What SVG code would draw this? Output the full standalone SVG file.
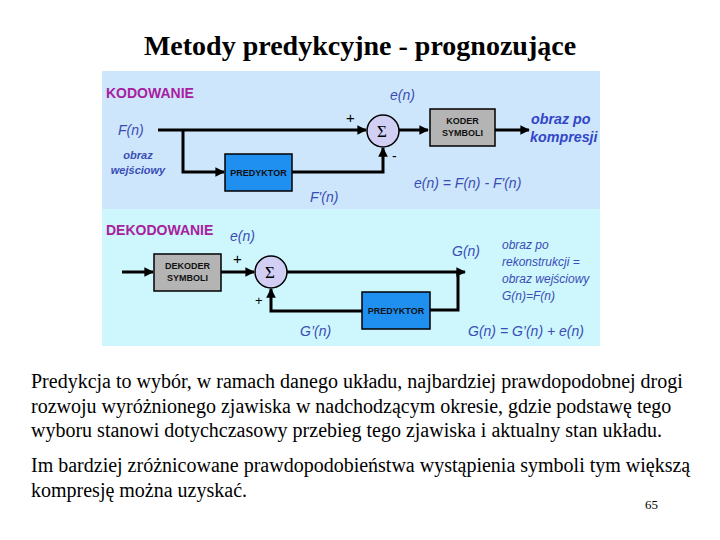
<svg xmlns="http://www.w3.org/2000/svg" width="720" height="540" viewBox="0 0 720 540">
<defs>
<style>
.t{font-family:"Liberation Serif","Times New Roman",serif;fill:#000}
.s{font-family:"Liberation Sans",Arial,sans-serif}
.hd{font-weight:bold;fill:#a8209f;font-size:14px}
.lb{font-style:italic;fill:#3a4db5;font-size:14px}
.lbb{font-style:italic;font-weight:bold;fill:#3a4db5;font-size:11px}
.big{font-size:14.3px;fill:#3346c8}
.lbr{font-style:italic;fill:#3a4db5;font-size:12px}
.bx{font-weight:bold;font-size:9px;fill:#111;text-anchor:middle}
.ln{fill:none;stroke:#000;stroke-width:3}
.gray{fill:#b4b4b4;stroke:#000;stroke-width:1.5}
.blue{fill:#1f8ff0;stroke:#000;stroke-width:1.5}
.sum{fill:#d2cff5;stroke:#000;stroke-width:1.5}
</style>
<marker id="ar" viewBox="0 0 10 10" refX="9" refY="5" markerWidth="3.2" markerHeight="3.2" orient="auto" markerUnits="strokeWidth">
<path d="M0,0 L10,5 L0,10 z" fill="#000"/>
</marker>
</defs>
<rect width="720" height="540" fill="#fff"/>
<text class="t" x="360" y="55" font-size="28" font-weight="bold" text-anchor="middle">Metody predykcyjne - prognozujące</text>
<rect x="102" y="71" width="498" height="138" fill="#cde6fb"/>
<rect x="102" y="209" width="498" height="137" fill="#cdf6fd"/>
<g id="connectors">
<path class="ln" d="M158,130 H366" marker-end="url(#ar)"/>
<path class="ln" d="M183,130 V172 H224" marker-end="url(#ar)"/>
<path class="ln" d="M292,172 H383 V148" marker-end="url(#ar)"/>
<path class="ln" d="M399,130 H428" marker-end="url(#ar)"/>
<path class="ln" d="M495,130 H529" marker-end="url(#ar)"/>
<path class="ln" d="M122,272 H153" marker-end="url(#ar)"/>
<path class="ln" d="M221,272 H254" marker-end="url(#ar)"/>
<path class="ln" d="M287,272 H465" marker-end="url(#ar)"/>
<path class="ln" d="M458,272 V310 H430"/>
<path class="ln" d="M362,311 H271 V289" marker-end="url(#ar)"/>
</g>
<g id="kodowanie-label"><text class="s hd" x="106" y="98">KODOWANIE</text></g>
<g id="fn"><text class="s lb" x="118" y="135">F(n)</text></g>
<g id="obraz-wej"><text class="s lbb" x="138" y="159" text-anchor="middle">obraz</text><text class="s lbb" x="138" y="174" text-anchor="middle">wejściowy</text></g>
<g id="predyktor1"><rect class="blue" x="225" y="154" width="67" height="37"/><text class="s bx" x="258.5" y="176">PREDYKTOR</text></g>
<g id="sum1"><circle class="sum" cx="383" cy="131" r="16"/><text class="t" x="382" y="137" font-size="17" text-anchor="middle">Σ</text>
<text class="s" x="346" y="123" font-size="15" fill="#000">+</text><text class="s" x="392" y="161" font-size="14" fill="#000">-</text></g>
<g id="en1"><text class="s lb" x="390" y="100">e(n)</text></g>
<g id="koder"><rect class="gray" x="430" y="109" width="65" height="37"/><text class="s bx" x="462.5" y="124">KODER</text><text class="s bx" x="462.5" y="136">SYMBOLI</text></g>
<g id="obraz-kompr"><text class="s lbb big" x="531" y="124">obraz po</text><text class="s lbb big" x="530" y="142">kompresji</text></g>
<g id="fpn"><text class="s lb" x="310" y="202">F'(n)</text></g>
<g id="eq1"><text class="s lb" x="414" y="188">e(n) = F(n) - F'(n)</text></g>
<g id="dekodowanie-label"><text class="s hd" x="106" y="235">DEKODOWANIE</text></g>
<g id="en2"><text class="s lb" x="230" y="241">e(n)</text></g>
<g id="dekoder"><rect class="gray" x="154" y="254" width="67" height="37"/><text class="s bx" x="187.5" y="269">DEKODER</text><text class="s bx" x="187.5" y="281">SYMBOLI</text></g>
<g id="sum2"><circle class="sum" cx="271" cy="272" r="16"/><text class="t" x="270" y="278" font-size="17" text-anchor="middle">Σ</text>
<text class="s" x="233" y="264" font-size="15" fill="#000">+</text><text class="s" x="255" y="305" font-size="13" fill="#000">+</text></g>
<g id="gn"><text class="s lb" x="452" y="256">G(n)</text></g>
<g id="obraz-rek"><text class="s lbr" x="502" y="249">obraz po</text><text class="s lbr" x="502" y="266">rekonstrukcji =</text><text class="s lbr" x="502" y="283">obraz wejściowy</text><text class="s lbr" x="502" y="300">G(n)=F(n)</text></g>
<g id="predyktor2"><rect class="blue" x="362" y="292" width="68" height="37"/><text class="s bx" x="396" y="314">PREDYKTOR</text></g>
<g id="gpn"><text class="s lb" x="300" y="336">G’(n)</text></g>
<g id="eq2"><text class="s lb" x="468" y="336">G(n) = G’(n) + e(n)</text></g>
<text class="t" font-size="20" x="31" y="388">Predykcja to wybór, w ramach danego układu, najbardziej prawdopodobnej drogi</text>
<text class="t" font-size="20" x="31" y="413">rozwoju wyróżnionego zjawiska w nadchodzącym okresie, gdzie podstawę tego</text>
<text class="t" font-size="20" x="31" y="437">wyboru stanowi dotychczasowy przebieg tego zjawiska i aktualny stan układu.</text>
<text class="t" font-size="20" x="31" y="472">Im bardziej zróżnicowane prawdopodobieństwa wystąpienia symboli tym większą</text>
<text class="t" font-size="20" x="31" y="497">kompresję można uzyskać.</text>
<text class="t" font-size="13" x="645" y="509">65</text>
</svg>
